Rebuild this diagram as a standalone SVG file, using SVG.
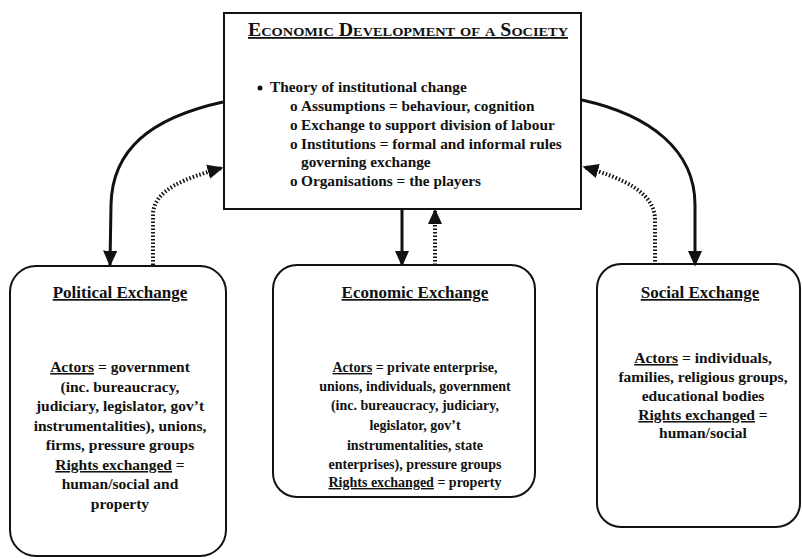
<svg xmlns="http://www.w3.org/2000/svg" width="802" height="559" viewBox="0 0 802 559">
<defs>
<marker id="arr" viewBox="0 0 10 10" refX="9" refY="5" markerWidth="16" markerHeight="16" orient="auto" markerUnits="userSpaceOnUse">
<path d="M0,0.5 L10,5 L0,9.5 Z" fill="#111"/>
</marker>
</defs>
<style>
text{font-family:"Liberation Serif","Times New Roman",serif;font-weight:bold;fill:#111;}
.t{font-size:15.3px;}
.s{font-size:15.5px;}
.m{font-size:14px;}
.ti{font-size:17px;}
.c{text-anchor:middle;}
.u{text-decoration:underline;}
.h{font-size:18px;font-variant:small-caps;}
.box{fill:#fff;stroke:#111;stroke-width:2;}
.solid{fill:none;stroke:#111;stroke-width:3;marker-end:url(#arr);}
.dot{fill:none;stroke:#111;stroke-width:4;stroke-dasharray:1.5 2;marker-end:url(#arr);}
</style>
<rect width="802" height="559" fill="#fff"/>
<g id="top">
<rect class="box" x="224" y="13" width="357" height="196" stroke-width="2.5"/>
<text class="h u" x="248" y="36" textLength="320" lengthAdjust="spacingAndGlyphs">Economic Development of a Society</text>
<circle cx="260" cy="88" r="2.5" fill="#111"/>
<text class="t" x="270" y="92">Theory of institutional change</text>
<text class="t" x="290" y="111">o</text>
<text class="t" x="301" y="111">Assumptions = behaviour, cognition</text>
<text class="t" x="290" y="130">o</text>
<text class="t" x="301" y="130">Exchange to support division of labour</text>
<text class="t" x="290" y="149">o</text>
<text class="t" x="301" y="149">Institutions = formal and informal rules</text>
<text class="t" x="301" y="167">governing exchange</text>
<text class="t" x="290" y="186">o</text>
<text class="t" x="301" y="186">Organisations = the players</text>
</g>
<g id="political">
<rect class="box" x="10" y="266" width="216" height="290" rx="26"/>
<text class="ti c u" x="120" y="298">Political Exchange</text>
<text class="s c" x="120" y="372"><tspan class="u">Actors</tspan> = government</text>
<text class="s c" x="120" y="392">(inc. bureaucracy,</text>
<text class="s c" x="120" y="411">judiciary, legislator, gov’t</text>
<text class="s c" x="120" y="431">instrumentalities), unions,</text>
<text class="s c" x="120" y="450">firms, pressure groups</text>
<text class="s c" x="120" y="470"><tspan class="u">Rights exchanged</tspan> =</text>
<text class="s c" x="120" y="489">human/social and</text>
<text class="s c" x="120" y="509">property</text>
</g>
<g id="economic">
<rect class="box" x="273" y="265" width="262" height="232" rx="24"/>
<text class="ti c u" x="415" y="298">Economic Exchange</text>
<text class="m c" x="415" y="372"><tspan class="u">Actors</tspan> = private enterprise,</text>
<text class="m c" x="415" y="391">unions, individuals, government</text>
<text class="m c" x="415" y="410">(inc. bureaucracy, judiciary,</text>
<text class="m c" x="415" y="430">legislator, gov’t</text>
<text class="m c" x="415" y="450">instrumentalities, state</text>
<text class="m c" x="415" y="469">enterprises), pressure groups</text>
<text class="m c" x="415" y="487"><tspan class="u">Rights exchanged</tspan> = property</text>
</g>
<g id="social">
<rect class="box" x="597" y="264" width="203" height="263" rx="24"/>
<text class="ti c u" x="700" y="298">Social Exchange</text>
<text class="s c" x="703" y="363"><tspan class="u">Actors</tspan> = individuals,</text>
<text class="s c" x="703" y="382">families, religious groups,</text>
<text class="s c" x="703" y="401">educational bodies</text>
<text class="s c" x="703" y="420"><tspan class="u">Rights exchanged</tspan> =</text>
<text class="s c" x="703" y="438">human/social</text>
</g>
<g id="connectors">
<path class="solid" d="M223,102 C150,118 112,150 111,205 L110,265"/>
<path class="dot" d="M153,265 L153,215 C153,190 185,178 222,168"/>
<path class="solid" d="M582,100 C650,115 695,150 695,205 L695,265"/>
<path class="dot" d="M655,265 L655,220 C655,192 622,178 584,167"/>
<path class="solid" d="M402,210 L402,265"/>
<path class="dot" d="M435,265 L435,210"/>
</g>
</svg>
